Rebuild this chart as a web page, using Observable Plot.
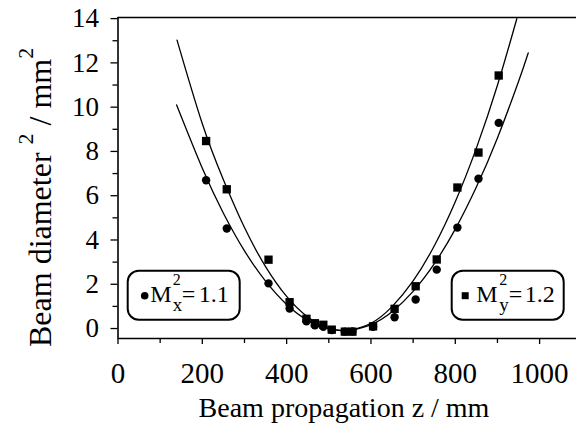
<!DOCTYPE html>
<html><head><meta charset="utf-8">
<script src="https://cdn.jsdelivr.net/npm/d3@7"></script>
<script src="https://cdn.jsdelivr.net/npm/@observablehq/plot@0.6"></script>
<style>
body{margin:0;background:#fff;}
</style></head><body><div id="chart"></div>
<script>
// Measured propagation positions (mm)
const zMeas = [209, 258, 357, 407, 447, 467, 487, 507, 538, 556, 605, 656, 706, 756, 805, 855, 903];
// Beam diameter^2 (mm^2), x direction (circles, M_x^2 = 1.1)
const d2x = [6.70, 4.52, 2.04, 0.90, 0.33, 0.15, 0.08, -0.07, -0.14, -0.13, 0.08, 0.51, 1.31, 2.66, 4.56, 6.77, 9.29];
// Beam diameter^2 (mm^2), y direction (squares, M_y^2 = 1.2)
const d2y = [8.47, 6.29, 3.11, 1.19, 0.44, 0.24, 0.17, -0.05, -0.14, -0.14, 0.10, 0.89, 1.91, 3.12, 6.37, 7.95, 11.43];
// Fitted curves
const zFitY = [140, 200, 250, 300, 350, 400, 450, 500, 536, 550, 600, 650, 700, 750, 800, 850, 900, 946];
const fitY  = [13.03, 9.25, 6.72, 4.56, 2.80, 1.45, 0.52, 0.01, -0.10, -0.08, 0.24, 0.99, 2.15, 3.73, 5.73, 8.15, 10.99, 14.0];
const zFitX = [139, 200, 250, 300, 350, 400, 450, 500, 535, 550, 600, 650, 700, 750, 800, 850, 900, 950, 973];
const fitX  = [10.10, 7.24, 5.21, 3.51, 2.14, 1.09, 0.37, -0.02, -0.10, -0.085, 0.18, 0.76, 1.68, 2.92, 4.49, 6.39, 8.61, 11.16, 12.45];
// Axis ticks
const xTicksMajor = [0, 200, 400, 600, 800, 1000];
const xTicksMinor = [100, 300, 500, 700, 900];
const yTicksMajor = [0, 2, 4, 6, 8, 10, 12, 14];
const yTicksMinor = [1, 3, 5, 7, 9, 11, 13];
// Texts
const xTitle = "Beam propagation z / mm";
const yTitleParts = ["Beam diameter ", "2", " / mm", "2"];
const legendLabels = [
  {sym: "circle", base: "M", sup: "2", sub: "x", value: "1.1"},
  {sym: "square", base: "M", sup: "2", sub: "y", value: "1.2"}
];

const font = "Liberation Serif";
const ptsX = zMeas.map((z, i) => ({z, v: d2x[i]}));
const ptsY = zMeas.map((z, i) => ({z, v: d2y[i]}));
const curveY = zFitY.map((z, i) => ({z, v: fitY[i]}));
const curveX = zFitX.map((z, i) => ({z, v: fitX[i]}));
const yMin = -0.45, yMax = 14.05;
const fmt = d => String(d);

const plot = Plot.plot({
  width: 576, height: 431,
  marginLeft: 117.5, marginRight: 0, marginTop: 17, marginBottom: 93,
  style: {fontFamily: font, background: "white", color: "black"},
  x: {domain: [0, 1087.5]},
  y: {domain: [yMin, yMax]},
  marks: [
    Plot.axisY({ticks: yTicksMajor, tickSize: 7, tickPadding: 12, fontSize: 27, fontFamily: font, tickFormat: fmt, label: null, strokeWidth: 1.3}),
    Plot.axisY({ticks: yTicksMinor, tickSize: 5, tickFormat: () => "", label: null, strokeWidth: 1.3}),
    Plot.axisX({ticks: xTicksMajor, tickSize: 6, tickPadding: 18, fontSize: 29, fontFamily: font, tickFormat: fmt, label: null, strokeWidth: 1.3}),
    Plot.axisX({ticks: xTicksMinor, tickSize: 5, tickFormat: () => "", label: null, strokeWidth: 1.3}),
    Plot.ruleX([0], {y1: yMin, y2: yMax, stroke: "black", strokeWidth: 1.6}),
    Plot.ruleY([yMin], {stroke: "black", strokeWidth: 1.6}),
    Plot.ruleY([yMax], {stroke: "black", strokeWidth: 1.6}),
    Plot.line(curveY, {x: "z", y: "v", curve: "natural", stroke: "black", strokeWidth: 1.3}),
    Plot.line(curveX, {x: "z", y: "v", curve: "natural", stroke: "black", strokeWidth: 1.3}),
    Plot.dot(ptsX, {x: "z", y: "v", r: 4.2, fill: "black", stroke: null, symbol: "circle"}),
    Plot.dot(ptsY, {x: "z", y: "v", r: 4.7, fill: "black", stroke: null, symbol: "square"})
  ]
});
document.getElementById("chart").appendChild(plot);

const svg = d3.select(plot);
// X title
svg.append("text").attr("x", 344).attr("y", 417).attr("text-anchor", "middle")
  .attr("font-family", font).attr("font-size", 28).attr("fill", "black").text(xTitle);
// Y title with superscripts
const yl = svg.append("text").attr("transform", "translate(51,347) rotate(-90)")
  .attr("font-family", font).attr("font-size", 32).attr("fill", "black").attr("text-anchor", "start");
yl.append("tspan").text(yTitleParts[0]);
yl.append("tspan").attr("font-size", 22).attr("dy", -18).text(yTitleParts[1]);
yl.append("tspan").attr("dy", 18).text(yTitleParts[2]);
yl.append("tspan").attr("font-size", 22).attr("dy", -18).text(yTitleParts[3]);

// Legend boxes
const boxes = [{x: 127.7, y: 270.7}, {x: 451.7, y: 270.7}];
legendLabels.forEach((L, i) => {
  const b = boxes[i];
  const g = svg.append("g").attr("transform", `translate(${b.x},${b.y})`).attr("text-anchor", "start");
  g.append("rect").attr("x", 0).attr("y", 0).attr("width", 112).attr("height", 49)
    .attr("rx", 11).attr("fill", "white").attr("stroke", "black").attr("stroke-width", 2);
  if (L.sym === "circle") g.append("circle").attr("cx", 17).attr("cy", 25).attr("r", 3.8).attr("fill", "black");
  else g.append("rect").attr("x", 10).attr("y", 21.5).attr("width", 7).attr("height", 7).attr("fill", "black");
  const t = (x, y, s, txt) => g.append("text").attr("x", x).attr("y", y).attr("font-family", font)
      .attr("text-anchor", "start").attr("font-size", s).attr("fill", "black").text(txt);
  t(i === 0 ? 22.5 : 24.5, 31, 24, L.base);
  t(i === 0 ? 45 : 47.5, 14.5, 16, L.sup);
  t(i === 0 ? 45 : 47.5, 40, 19, L.sub);
  t(i === 0 ? 54 : 57, 31, 24, "=");
  t(i === 0 ? 71 : 73, 31, 24, L.value);
});
</script></body></html>
